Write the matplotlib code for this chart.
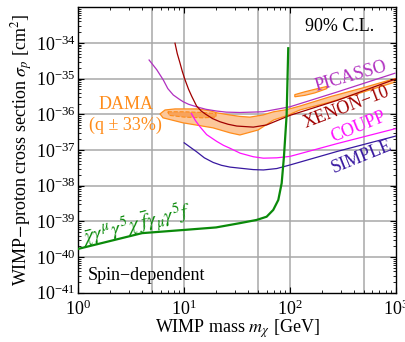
import numpy as np
import matplotlib
matplotlib.use('Agg')
import matplotlib.pyplot as plt
from matplotlib.ticker import LogLocator, NullFormatter

plt.rcParams['font.family'] = 'serif'
plt.rcParams['font.serif'] = ['Liberation Serif', 'DejaVu Serif']
plt.rcParams['mathtext.fontset'] = 'stix'

# Data: mass [GeV], log10(sigma_p / cm^2)
picasso_m = [4.66, 5.5, 6.35, 7.0, 7.89, 9.0, 9.8, 11, 13.1, 16, 20.3, 25, 33.6, 55.5, 100, 276, 980]
picasso_s = [-34.48, -34.75, -35.04, -35.28, -35.46, -35.58, -35.65, -35.72, -35.79, -35.86,
             -35.91, -35.94, -35.95, -35.93, -35.79, -35.38, -34.85]

xenon_m = [8.19, 8.6, 9.1, 9.6, 10.2, 11.0, 11.8, 13.1, 14.5, 16, 18.5, 21.8, 26, 31.4, 45, 60, 100, 280, 1000]
xenon_s = [-34.01, -34.30, -34.55, -34.80, -35.04, -35.30, -35.50, -35.77, -35.91, -36.0, -36.12,
           -36.21, -36.28, -36.33, -36.36, -36.30, -36.03, -35.61, -35.01]

coupp_m = [11.7, 12.8, 14.1, 16.3, 18.5, 20.3, 23.5, 27, 33.8, 45, 56, 75, 100, 280, 1000]
coupp_s = [-35.98, -36.18, -36.35, -36.57, -36.68, -36.76, -36.87, -36.95, -37.09, -37.19, -37.23,
           -37.22, -37.18, -36.82, -36.40]

simple_m = [10, 11.5, 13.1, 15.5, 18.8, 22.5, 27.1, 33.6, 45, 56, 75, 100, 280, 1000]
simple_s = [-36.80, -36.93, -37.05, -37.22, -37.35, -37.43, -37.48, -37.51, -37.55, -37.56,
            -37.52, -37.42, -37.04, -36.61]

axial_m = [1, 4, 10, 20, 33.6, 48.4, 60.1, 69.4, 77.5, 83.4, 87.6, 92.9, 96.2]
axial_s = [-39.77, -39.33, -39.24, -39.17, -39.05, -38.96, -38.87, -38.68, -38.40, -37.93, -37.19, -36.02, -34.15]

# DAMA allowed region (outer contour), inner region and detached island
dama_m = [5.91, 6.59, 8.19, 13.2, 17.5, 20.4, 27.1, 33.6, 41.8, 55.5, 70, 93, 124, 238, 488, 979,
          979, 488, 238, 124, 93, 70, 50, 33.6, 27.1, 18.7, 9.75, 6.31]
dama_s = [-35.99, -35.88, -35.85, -35.85, -35.90, -35.96, -36.02, -36.06, -36.08, -36.02, -35.93, -35.87,
          -35.77, -35.51, -35.26, -35.00,
          -35.10, -35.38, -35.66, -35.88, -36.04, -36.16, -36.44, -36.58, -36.52, -36.38, -36.24, -36.10]
dama_in_m = [7.0, 10, 15, 20, 20, 15, 10, 7.2]
dama_in_s = [-35.93, -35.93, -35.95, -35.98, -36.08, -36.10, -36.08, -36.03]
dama_isl_m = [111, 138, 172, 223, 223, 172, 138, 111]
dama_isl_s = [-35.45, -35.37, -35.30, -35.22, -35.28, -35.40, -35.47, -35.51]

COLORS = {
    'picasso': '#b030c0',
    'xenon': '#a00000',
    'coupp': '#ff10ff',
    'simple': '#3818a0',
    'axial': '#0a8a0a',
    'dama': '#ff8c1a',
    'dama_fill': '#fcc79a',
    'dama_inner': '#f7a35c',
    'grid': '#a8a8a8',
}
FS = 13

fig = plt.figure(figsize=(4.06, 3.42), dpi=100)
ax = fig.add_axes([0.193, 0.144, 0.782, 0.835])

ax.set_xscale('log')
ax.set_yscale('log')
ax.set_xlim(1, 1000)
ax.set_ylim(1e-41, 1e-33)

# grid lines
for v in [5, 10, 50, 100, 500]:
    ax.axvline(v, color=COLORS['grid'], lw=1.1, zorder=0.5)
for e in range(-40, -33):
    ax.axhline(10.0 ** e, color=COLORS['grid'], lw=1.1, zorder=0.5)

# DAMA region
ax.fill(dama_m, 10.0 ** np.array(dama_s), facecolor=COLORS['dama_fill'],
        edgecolor=COLORS['dama'], lw=0.9, zorder=1)
ax.fill(dama_isl_m, 10.0 ** np.array(dama_isl_s), facecolor=COLORS['dama_fill'],
        edgecolor=COLORS['dama'], lw=0.9, zorder=1)
ax.fill(dama_in_m, 10.0 ** np.array(dama_in_s), facecolor=COLORS['dama_inner'],
        edgecolor=COLORS['dama'], lw=0.8, ls='--', zorder=1.1)

# exclusion limits
ax.plot(picasso_m, 10.0 ** np.array(picasso_s), color=COLORS['picasso'], lw=0.9, zorder=2)
ax.plot(xenon_m, 10.0 ** np.array(xenon_s), color=COLORS['xenon'], lw=0.9, zorder=2)
ax.plot(coupp_m, 10.0 ** np.array(coupp_s), color=COLORS['coupp'], lw=0.9, zorder=2)
ax.plot(simple_m, 10.0 ** np.array(simple_s), color=COLORS['simple'], lw=0.9, zorder=2)
ax.plot(axial_m, 10.0 ** np.array(axial_s), color=COLORS['axial'], lw=1.6, zorder=3)

# labels
ax.text(373, 10 ** -34.93, 'PICASSO', color=COLORS['picasso'], fontsize=FS,
        rotation=16, ha='center', va='center', zorder=4)
ax.text(344, 10 ** -35.82, 'XENON\u221210', color=COLORS['xenon'], fontsize=FS,
        rotation=21, ha='center', va='center', zorder=4)
ax.text(447, 10 ** -36.35, 'COUPP', color=COLORS['coupp'], fontsize=FS,
        rotation=22, ha='center', va='center', zorder=4)
ax.text(478, 10 ** -37.19, 'SIMPLE', color=COLORS['simple'], fontsize=FS,
        rotation=22, ha='center', va='center', zorder=4)
ax.text(2.82, 10 ** -35.74, 'DAMA', color=COLORS['dama'], fontsize=FS,
        ha='center', va='center', zorder=4)
ax.text(2.77, 10 ** -36.30, '(q \u00b1 33%)', color=COLORS['dama'], fontsize=FS,
        ha='center', va='center', zorder=4)
ax.text(3.58, 10 ** -39.10,
        r'$\bar{\chi}\gamma^\mu\gamma^5\chi\;\bar{f}\gamma_\mu\gamma^5 f$',
        color=COLORS['axial'], fontsize=15, rotation=14, ha='center', va='center', zorder=4)
ax.text(0.93, 0.934, '90% C.L.', transform=ax.transAxes, fontsize=FS,
        ha='right', va='center')
ax.text(0.03, 0.062, 'Spin\u2212dependent', transform=ax.transAxes, fontsize=FS,
        ha='left', va='center')

ax.set_xlabel(r'WIMP mass $m_\chi$ [GeV]', fontsize=FS, labelpad=-1)
ax.set_ylabel(r'WIMP$-$proton cross section $\sigma_p$ [cm$^2$]', fontsize=FS, labelpad=1)

ax.set_yticks([10.0 ** e for e in range(-41, -33)])
ax.yaxis.set_minor_locator(LogLocator(base=10, subs=np.arange(2, 10), numticks=20))
ax.yaxis.set_minor_formatter(NullFormatter())
ax.xaxis.set_minor_locator(LogLocator(base=10, subs=np.arange(2, 10), numticks=20))
ax.xaxis.set_minor_formatter(NullFormatter())
ax.tick_params(which='both', direction='in', top=True, right=True, labelsize=FS)
ax.tick_params(which='major', length=4, width=0.8)
ax.tick_params(which='minor', length=2, width=0.6)
ax.tick_params(axis='x', pad=5)
ax.tick_params(axis='y', pad=2)
for s in ax.spines.values():
    s.set_linewidth(1.0)

fig.savefig('out.png', dpi=100, facecolor='white')
